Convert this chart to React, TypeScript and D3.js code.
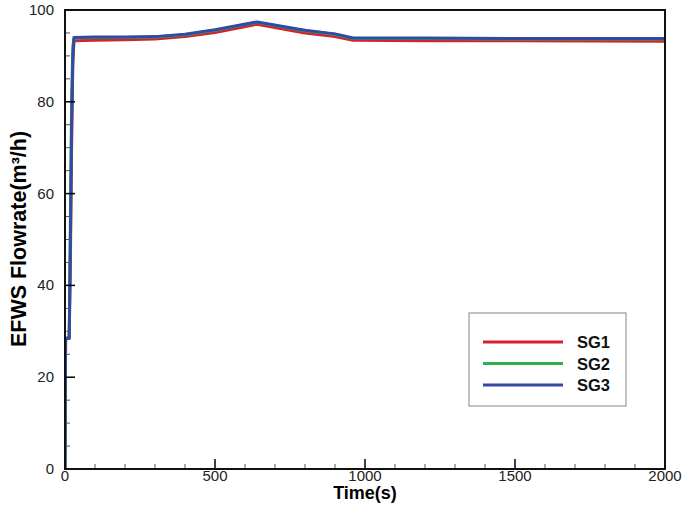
import * as d3 from "d3";

const times = [0, 2, 14, 18, 22, 26, 30, 100, 200, 300, 400, 500, 640, 800, 900, 960, 1200, 1500, 2000];
const sg1 = [0, 28.5, 28.5, 45, 70, 88, 93.3, 93.4, 93.5, 93.7, 94.2, 95.1, 96.9, 95.0, 94.2, 93.4, 93.3, 93.3, 93.2];
const sg2 = [0, 28.5, 28.5, 55, 80, 92, 93.9, 94.0, 94.0, 94.1, 94.6, 95.6, 97.3, 95.5, 94.7, 93.8, 93.8, 93.7, 93.7];
const sg3 = [0, 28.5, 28.5, 50, 75, 90, 94.0, 94.1, 94.1, 94.2, 94.7, 95.7, 97.4, 95.6, 94.8, 93.9, 93.9, 93.8, 93.8];

const seriesNames = ["SG1", "SG2", "SG3"];
const seriesColors = ["#d2232f", "#2bb24c", "#2f4ba6"];
const seriesValues = [sg1, sg2, sg3];

const xTicks = [0, 500, 1000, 1500, 2000];
const yTicks = [0, 20, 40, 60, 80, 100];

const W = 685;
const H = 521;
const left = 65;
const right = 665;
const top = 10;
const bottom = 469;

export default function App() {
    const x = d3.scaleLinear().domain([0, 2000]).range([left, right]);
    const y = d3.scaleLinear().domain([0, 100]).range([bottom, top]);
    const line = d3
        .line<number>()
        .x((_, i) => x(times[i]))
        .y((d) => y(d));

    const xMinor = d3.range(0, 2001, 100).filter((v) => v % 500 !== 0);
    const yMinor = d3.range(0, 101, 5).filter((v) => v % 20 !== 0);
    const font = "Liberation Sans, Arial, sans-serif";

    return (
        <svg
            width={W}
            height={H}
            style={{ position: "absolute", left: 0, top: 0, background: "#fff" }}
            fontFamily={font}
        >
            <defs>
                <clipPath id="plot">
                    <rect x={left} y={top} width={right - left} height={bottom - top} />
                </clipPath>
            </defs>
            <g clipPath="url(#plot)">
                {seriesValues.map((vals, i) => (
                    <path
                        key={seriesNames[i]}
                        d={line(vals) ?? ""}
                        fill="none"
                        stroke={seriesColors[i]}
                        strokeWidth={3}
                        strokeLinejoin="round"
                    />
                ))}
            </g>

            {/* ticks */}
            {xTicks.map((t) => (
                <line key={"xt" + t} x1={x(t)} x2={x(t)} y1={bottom} y2={bottom - 10} stroke="#000" strokeWidth={1.5} />
            ))}
            {xMinor.map((t) => (
                <line key={"xm" + t} x1={x(t)} x2={x(t)} y1={bottom} y2={bottom - 5} stroke="#555" strokeWidth={1} />
            ))}
            {yTicks.map((t) => (
                <line key={"yt" + t} x1={left} x2={left + 10} y1={y(t)} y2={y(t)} stroke="#000" strokeWidth={1.5} />
            ))}
            {yMinor.map((t) => (
                <line key={"ym" + t} x1={left} x2={left + 5} y1={y(t)} y2={y(t)} stroke="#555" strokeWidth={1} />
            ))}

            <rect x={left} y={top} width={right - left} height={bottom - top} fill="none" stroke="#111" strokeWidth={2} />

            {xTicks.map((t) => (
                <text key={"xl" + t} x={x(t)} y={481} textAnchor="middle" fontSize={15} fill="#222">
                    {t}
                </text>
            ))}
            {yTicks.map((t) => (
                <text key={"yl" + t} x={54} y={y(t) + 5} textAnchor="end" fontSize={15} fill="#222">
                    {t}
                </text>
            ))}

            <text x={x(1000)} y={499} textAnchor="middle" fontSize={18} fontWeight="bold" fill="#000">
                Time(s)
            </text>
            <text
                transform={`translate(26, 239) rotate(-90)`}
                textAnchor="middle"
                fontSize={21.5}
                fontWeight="bold"
                fill="#000"
            >
                EFWS Flowrate(m³/h)
            </text>

            {/* legend */}
            <rect x={469} y={313} width={157} height={93} fill="#fff" stroke="#999" strokeWidth={1.2} />
            {seriesNames.map((name, i) => (
                <g key={name}>
                    <line x1={483} x2={563} y1={342 + i * 21.5} y2={342 + i * 21.5} stroke={seriesColors[i]} strokeWidth={3} />
                    <text x={577} y={342 + i * 21.5 + 6} fontSize={16.5} fontWeight="bold" fill="#111">
                        {name}
                    </text>
                </g>
            ))}
        </svg>
    );
}
